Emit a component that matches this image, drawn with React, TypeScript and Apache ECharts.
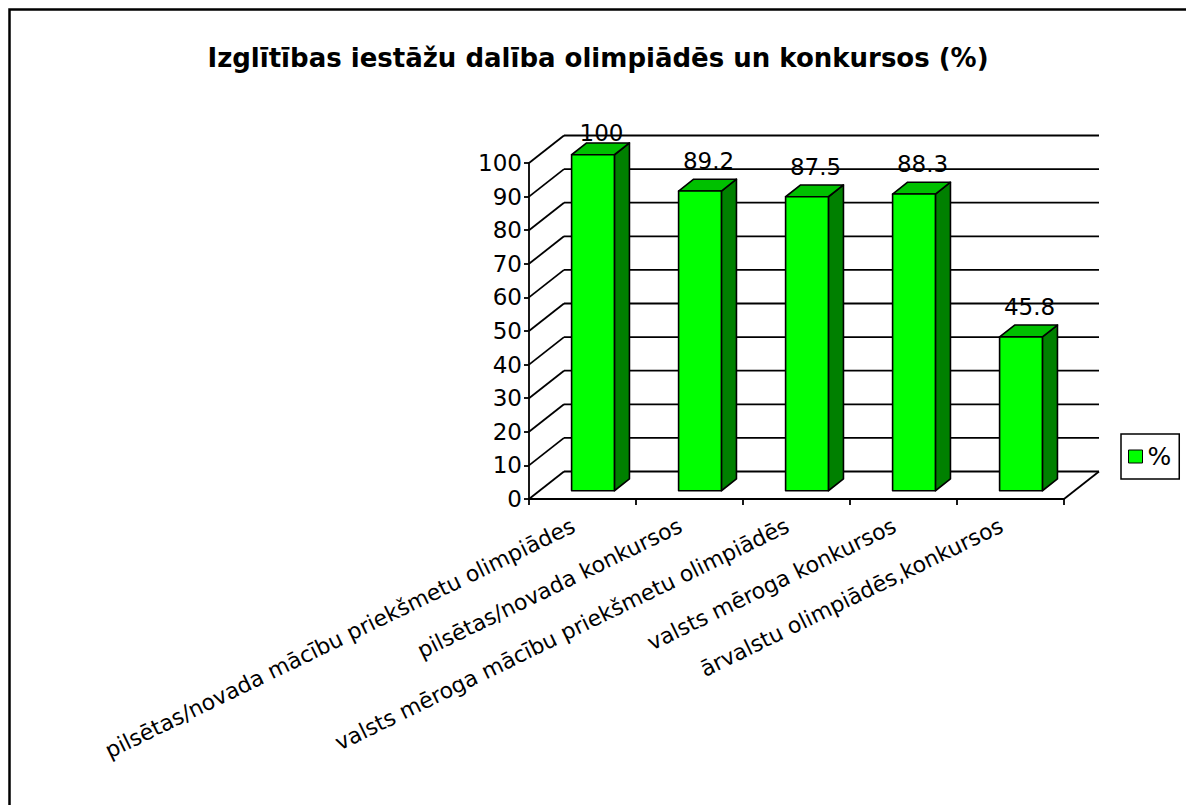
import React, { useEffect, useRef } from "react";
import * as echarts from "echarts";

const TITLE = "Izglītības iestāžu dalība olimpiādēs un konkursos (%)";
const CATEGORIES = [
  "pilsētas/novada mācību priekšmetu olimpiādes",
  "pilsētas/novada konkursos",
  "valsts mēroga mācību priekšmetu olimpiādēs",
  "valsts mēroga konkursos",
  "ārvalstu olimpiādēs,konkursos",
];
const VALUES = [100, 89.2, 87.5, 88.3, 45.8];
const SERIES_NAME = "%";
const Y_MIN = 0;
const Y_MAX = 100;
const Y_STEP = 10;
const Y_TICKS = [0, 10, 20, 30, 40, 50, 60, 70, 80, 90, 100];

const FONT = "DejaVu Sans";
const DX = 35;
const DY = -27.5;
const LW = 1.8;

export default function App() {
  const ref = useRef<HTMLDivElement>(null);
  useEffect(() => {
    if (!ref.current) return;
    const chart = echarts.init(ref.current, undefined, { renderer: "svg" });

    const wallsRender = (params: any, api: any) => {
      const cs = params.coordSys;
      const v = api.value(1);
      const y = api.coord([0, v])[1];
      const left = cs.x;
      const right = cs.x + cs.width;
      const ls = { stroke: "#000", lineWidth: LW };
      const children: any[] = [
        { type: "line", shape: { x1: left, y1: y, x2: left + DX, y2: y + DY }, style: ls },
        { type: "line", shape: { x1: left + DX, y1: y + DY, x2: right + DX, y2: y + DY }, style: ls },
      ];
      if (v === Y_MIN) {
        children.push({ type: "line", shape: { x1: right, y1: y, x2: right + DX, y2: y + DY }, style: ls });
      }
      return { type: "group", children };
    };

    const barsRender = (params: any, api: any) => {
      const i = api.value(0);
      const v = api.value(1);
      const [cx, yTop] = api.coord([i, v]);
      const yBase = api.coord([i, Y_MIN])[1];
      const bw = api.size([1, 0])[0];
      const w = bw * 0.4;
      const fx = 0.3 * DX;
      const fy = 0.3 * DY;
      const ddx = 0.43 * DX;
      const ddy = 0.43 * DY;
      const x0 = cx - w / 2 + fx;
      const x1 = x0 + w;
      const yt = yTop + fy;
      const yb = yBase + fy;
      const topLimit = api.coord([0, Y_MAX])[1] + DY - 3;
      const ly = Math.max(yt + ddy - 18, topLimit);
      const st = { stroke: "#000", lineWidth: 1.6, lineJoin: "round" };
      return {
        type: "group",
        children: [
          {
            type: "polygon",
            shape: { points: [[x1, yt], [x1 + ddx, yt + ddy], [x1 + ddx, yb + ddy], [x1, yb]] },
            style: { ...st, fill: "#008000" },
          },
          {
            type: "polygon",
            shape: { points: [[x0, yt], [x1, yt], [x1 + ddx, yt + ddy], [x0 + ddx, yt + ddy]] },
            style: { ...st, fill: "#00C000" },
          },
          {
            type: "rect",
            shape: { x: x0, y: yt, width: w, height: yb - yt },
            style: { ...st, fill: "#00FF00" },
          },
          {
            type: "text",
            x: cx + fx + ddx / 2 + 1,
            y: ly,
            style: {
              text: String(v),
              fill: "#000",
              fontSize: 23,
              fontFamily: FONT,
              align: "center",
              verticalAlign: "middle",
            },
            z2: 10,
          },
        ],
      };
    };

    chart.setOption({
      animation: false,
      backgroundColor: "#fff",
      title: {
        text: TITLE,
        left: 593,
        top: 40,
        textAlign: "center",
        textStyle: { fontSize: 26, fontWeight: "bold", fontFamily: FONT, color: "#000" },
      },
      legend: {
        data: [
          {
            name: SERIES_NAME,
            icon: "rect",
            itemStyle: { color: "#00FF00", borderColor: "#000", borderWidth: 1 },
          },
        ],
        left: 1121,
        top: 434,
        orient: "vertical",
        borderColor: "#000",
        borderWidth: 1.5,
        padding: [10, 8, 10, 7],
        itemWidth: 14,
        itemHeight: 13,
        itemGap: 0,
        textStyle: { fontSize: 25, fontFamily: FONT, color: "#000" },
      },
      grid: { left: 529, top: 163, width: 535, height: 336, containLabel: false },
      xAxis: {
        type: "category",
        data: CATEGORIES,
        axisLine: { show: true, lineStyle: { color: "#000", width: LW } },
        axisTick: { show: true, length: 6, alignWithLabel: false, interval: 0, lineStyle: { color: "#000", width: LW } },
        axisLabel: {
          rotate: 26,
          interval: 0,
          fontSize: 22,
          fontFamily: FONT,
          color: "#000",
          margin: 21,
          padding: [0, 10, 0, 0],
        },
        splitLine: { show: false },
      },
      yAxis: {
        type: "value",
        min: Y_MIN,
        max: Y_MAX,
        interval: Y_STEP,
        axisLine: { show: true, lineStyle: { color: "#000", width: LW } },
        axisTick: { show: true, length: 5, lineStyle: { color: "#000", width: LW } },
        axisLabel: { fontSize: 23, fontFamily: FONT, color: "#000", margin: 7 },
        splitLine: { show: false },
      },
      graphic: [
        {
          type: "rect",
          silent: true,
          shape: { x: 9.5, y: 9.5, width: 1400, height: 1000 },
          style: { fill: "none", stroke: "#000", lineWidth: 2.5 },
        },
      ],
      series: [
        {
          type: "custom",
          name: "walls",
          renderItem: wallsRender,
          data: Y_TICKS.map((v) => [0, v]),
          silent: true,
          z: 1,
        },
        {
          type: "custom",
          name: SERIES_NAME,
          renderItem: barsRender,
          data: VALUES.map((v, i) => [i, v]),
          itemStyle: { color: "#00FF00", borderColor: "#000", borderWidth: 1 },
          z: 2,
        },
      ],
    });
    return () => chart.dispose();
  }, []);
  return <div ref={ref} style={{ position: "absolute", left: 0, top: 0, width: 1186, height: 805 }} />;
}
